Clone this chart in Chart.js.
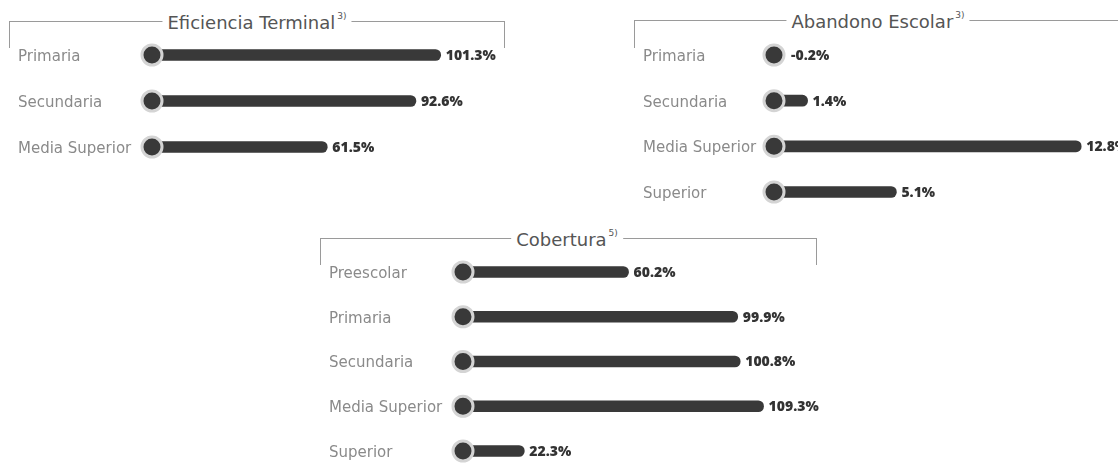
<!DOCTYPE html>
<html>
<head>
<meta charset="utf-8">
<script src="https://cdn.jsdelivr.net/npm/chart.js@4.4.0/dist/chart.umd.min.js"></script>
<style>
html, body { margin: 0; padding: 0; background: #fff; overflow: hidden; width: 1118px; height: 464px; }
canvas { position: absolute; }
.bracket { position: absolute; border: 1px solid #9a9a9a; border-bottom: none; box-sizing: border-box; }
.title { position: absolute; transform: translate(-50%, -50%); background: #fff; padding: 0 5px;
         font: 18px "DejaVu Sans", sans-serif; color: #555; white-space: nowrap; }
.title sup { font-size: 9px; vertical-align: top; position: relative; top: -1px; margin-left: 2px; }
</style>
</head>
<body>
<div class="bracket" style="left:9px;top:21px;width:496px;height:27px"></div>
<div class="title" style="left:257px;top:22px">Eficiencia Terminal<sup>3)</sup></div>
<div class="bracket" style="left:634px;top:20px;width:496px;height:28px"></div>
<div class="title" style="left:878px;top:21px">Abandono Escolar<sup>3)</sup></div>
<div class="bracket" style="left:320px;top:238px;width:497px;height:27px"></div>
<div class="title" style="left:567px;top:239px">Cobertura<sup>5)</sup></div>

<canvas id="efi" width="520" height="200" style="left:0;top:0"></canvas>
<canvas id="aba" width="498" height="220" style="left:620px;top:0"></canvas>
<canvas id="cob" width="520" height="264" style="left:310px;top:200px"></canvas>

<script>
// values (%)
const efiLabels = ['Primaria', 'Secundaria', 'Media Superior'];
const efiValues = [101.3, 92.6, 61.5];

const abaLabels = ['Primaria', 'Secundaria', 'Media Superior', 'Superior'];
const abaValues = [-0.2, 1.4, 12.8, 5.1];

const cobLabels = ['Preescolar', 'Primaria', 'Secundaria', 'Media Superior', 'Superior'];
const cobValues = [60.2, 99.9, 100.8, 109.3, 22.3];

const dark = '#393939';
const ring = '#d4d4d4';

// bold % label at the end of every bar
const valueLabels = {
    id: 'valueLabels',
    afterDatasetsDraw(chart) {
        const ctx = chart.ctx, xs = chart.scales.x, ys = chart.scales.y;
        const vals = chart.data.datasets[1].data;
        const x0 = xs.getPixelForValue(0);
        ctx.save();
        ctx.font = '800 14px "Open Sans", sans-serif';
        ctx.fillStyle = '#333';
        ctx.textBaseline = 'middle';
        vals.forEach((v, i) => {
            const x = Math.max(xs.getPixelForValue(v), x0 + 12) + 5;
            ctx.fillText(v.toFixed(1) + '%', x, ys.getPixelForValue(i) + 1);
        });
        ctx.restore();
    }
};

function dotBar(id, labels, values, o) {
    return new Chart(document.getElementById(id), {
        type: 'bar',
        data: {
            labels,
            datasets: [
                {   // start dot on the zero line
                    type: 'scatter',
                    data: labels.map(l => ({ x: 0, y: l })),
                    pointRadius: 10, pointBorderWidth: 3,
                    pointBackgroundColor: dark, pointBorderColor: ring,
                    clip: false, order: 0
                },
                {
                    data: values,
                    backgroundColor: dark,
                    barThickness: 11, borderRadius: 6, borderSkipped: 'start',
                    clip: false, order: 1
                }
            ]
        },
        options: {
            indexAxis: 'y',
            responsive: false,
            animation: false,
            events: [],
            layout: { padding: o.pad },
            plugins: { legend: { display: false }, tooltip: { enabled: false } },
            scales: {
                x: { display: false, min: o.min, max: o.max },
                y: {
                    type: 'category', offset: false,
                    grid: { display: false }, border: { display: false },
                    ticks: { crossAlign: 'far', color: '#8a8a8a', padding: 0, labelOffset: 2,
                             font: { family: 'DejaVu Sans', size: 15 } },
                    afterFit: s => { s.width = o.axisW; }
                }
            }
        },
        plugins: [valueLabels]
    });
}

dotBar('efi', efiLabels, efiValues, {
    pad: { left: 18, right: 26, top: 55, bottom: 53 }, axisW: 134, min: 0, max: 120
});
dotBar('aba', abaLabels, abaValues, {
    pad: { left: 23, right: 20, top: 55, bottom: 28 }, axisW: 119, min: -0.5, max: 13.5
});
dotBar('cob', cobLabels, cobValues, {
    pad: { left: 19, right: 37, top: 72, bottom: 9 }, axisW: 134, min: 0, max: 120
});
</script>
</body>
</html>
